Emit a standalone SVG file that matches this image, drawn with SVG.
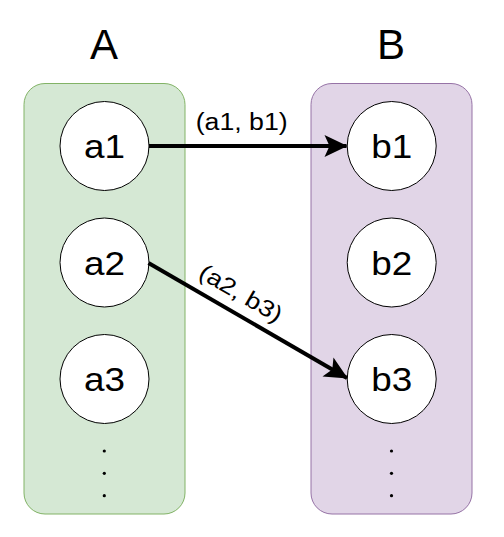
<svg xmlns="http://www.w3.org/2000/svg" width="504" height="537" viewBox="0 0 504 537">
<style>
.t{font-family:"Liberation Sans",Arial,sans-serif;fill:#000;text-anchor:middle}
.title{font-size:42px}
.nl{font-size:34px}
.el{font-size:23px}
.node{fill:#fff;stroke:#000;stroke-width:1}
.edge{fill:none;stroke:#000;stroke-width:4}
.dot{fill:#000}
</style>
<defs>
<marker id="arr" markerUnits="userSpaceOnUse" viewBox="-24 -12 26 24" refX="0" refY="0" markerWidth="26" markerHeight="24" orient="auto">
<path d="M1,0 L-22,-11 L-17,0 L-22,11 Z" fill="#000"/>
</marker>
</defs>
<rect width="504" height="537" fill="#fff"/>
<g id="setA">
<rect x="24" y="83.5" width="161" height="430.5" rx="21" fill="#d5e8d4" stroke="#82b366" stroke-width="1"/>
<text class="t title" x="104" y="58.5">A</text>
<circle class="dot" cx="104.3" cy="451" r="1.6"/>
<circle class="dot" cx="104.3" cy="473.3" r="1.6"/>
<circle class="dot" cx="104.3" cy="495.7" r="1.6"/>
</g>
<g id="setB">
<rect x="311" y="83.5" width="161" height="430.5" rx="21" fill="#e1d5e7" stroke="#9673a6" stroke-width="1"/>
<text class="t title" x="391" y="58.5">B</text>
<circle class="dot" cx="391.5" cy="451" r="1.6"/>
<circle class="dot" cx="391.5" cy="473.3" r="1.6"/>
<circle class="dot" cx="391.5" cy="495.7" r="1.6"/>
</g>
<g id="a1"><circle class="node" cx="104.5" cy="146" r="44.5"/><text class="t nl" x="104.5" y="158" textLength="41" lengthAdjust="spacingAndGlyphs">a1</text></g>
<g id="a2"><circle class="node" cx="104.5" cy="262.5" r="44.5"/><text class="t nl" x="104.5" y="274.5" textLength="41" lengthAdjust="spacingAndGlyphs">a2</text></g>
<g id="a3"><circle class="node" cx="104.5" cy="379" r="44.5"/><text class="t nl" x="104.5" y="391" textLength="41" lengthAdjust="spacingAndGlyphs">a3</text></g>
<g id="b1"><circle class="node" cx="391.7" cy="146" r="44.5"/><text class="t nl" x="391.7" y="158" textLength="41" lengthAdjust="spacingAndGlyphs">b1</text></g>
<g id="b2"><circle class="node" cx="391.7" cy="262.5" r="44.5"/><text class="t nl" x="391.7" y="274.5" textLength="41" lengthAdjust="spacingAndGlyphs">b2</text></g>
<g id="b3"><circle class="node" cx="391.7" cy="379" r="44.5"/><text class="t nl" x="391.7" y="391" textLength="41" lengthAdjust="spacingAndGlyphs">b3</text></g>
<g id="connectors">
<line class="edge" x1="149" y1="146" x2="346.5" y2="146" marker-end="url(#arr)"/>
<text class="t el" x="241.7" y="129.5" textLength="92" lengthAdjust="spacingAndGlyphs">(a1, b1)</text>
<line class="edge" x1="148.5" y1="263" x2="347" y2="378" marker-end="url(#arr)"/>
<text class="t el" x="241" y="301" transform="rotate(30.3 241 293)" textLength="92" lengthAdjust="spacingAndGlyphs">(a2, b3)</text>
</g>
</svg>
